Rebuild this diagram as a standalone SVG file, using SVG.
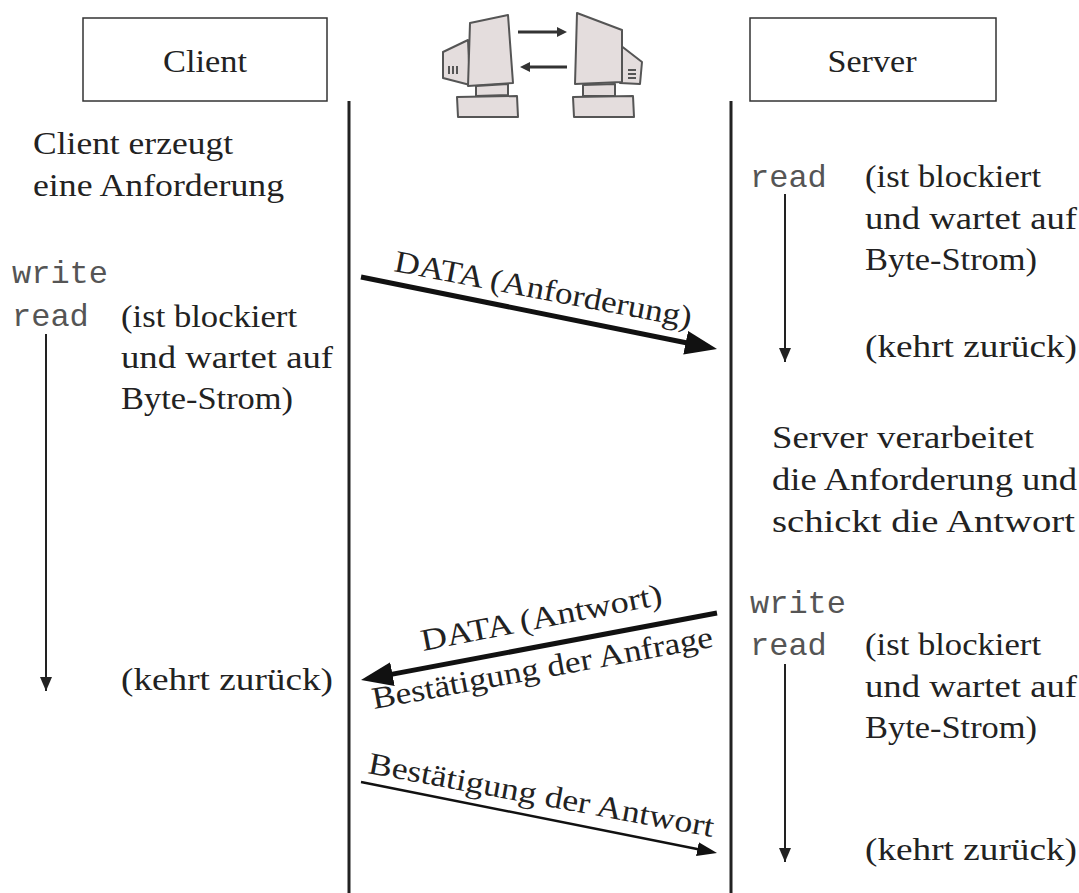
<svg xmlns="http://www.w3.org/2000/svg" width="1079" height="893" viewBox="0 0 1079 893">
  <style>
    .serif { font-family: "Liberation Serif", "DejaVu Serif", serif; font-size: 32px; fill: #222; }
    .lbl { font-family: "Liberation Serif", "DejaVu Serif", serif; font-size: 31px; fill: #222; }
    .mono { font-family: "Liberation Mono", "DejaVu Sans Mono", monospace; font-size: 32px; fill: #555; }
    .box { fill: #fff; stroke: #333; stroke-width: 1.5; }
    .life { stroke: #222; stroke-width: 3; fill: none; }
    .msg { stroke: #111; fill: none; }
    .wait { stroke: #222; stroke-width: 2; fill: none; }
    .pc { fill: #e4dddd; stroke: #555; stroke-width: 2; stroke-linejoin: round; }
    .pcdark { fill: none; stroke: #555; stroke-width: 2; }
  </style>
  <defs>
    <!-- heads sit past the line end so the shaft never pokes out at the tip -->
    <marker id="headBig" markerUnits="userSpaceOnUse" markerWidth="34" markerHeight="26" refX="8" refY="12" orient="auto">
      <path d="M0,0 L32,12 L0,24 Z" fill="#111"/>
    </marker>
    <marker id="headSmall" markerUnits="userSpaceOnUse" markerWidth="22" markerHeight="16" refX="6" refY="7" orient="auto">
      <path d="M0,0 L20,7 L0,14 Z" fill="#111"/>
    </marker>
    <marker id="headWait" markerUnits="userSpaceOnUse" markerWidth="16" markerHeight="14" refX="14" refY="7" orient="auto">
      <path d="M0,1 L14,7 L0,13 Z" fill="#222"/>
    </marker>
  </defs>

  <rect width="1079" height="893" fill="#fff"/>

  <!-- Client node -->
  <g id="client">
    <rect class="box" x="83" y="18" width="244" height="83"/>
    <text class="serif" x="205" y="72" text-anchor="middle" textLength="84" lengthAdjust="spacingAndGlyphs">Client</text>
  </g>

  <!-- Server node -->
  <g id="server">
    <rect class="box" x="750" y="18" width="246" height="83"/>
    <text class="serif" x="872" y="72" text-anchor="middle" textLength="89" lengthAdjust="spacingAndGlyphs">Server</text>
  </g>

  <!-- Two computers exchanging data -->
  <g id="computers">
    <!-- left machine: body, screen, stand, base -->
    <path class="pc" d="M443,52 L468,40 L470,85 L443,78 Z"/>
    <path class="pcdark" d="M449,66 L449,74 M453,66 L453,74 M457,66 L457,74"/>
    <path class="pc" d="M470,23 L508,15 L513,83 L468,86 Z"/>
    <path class="pc" d="M476,86 L508,84 L508,95 L476,96 Z"/>
    <path class="pc" d="M457,97 L517,96 L518,117 L458,117 Z"/>
    <!-- right machine -->
    <path class="pc" d="M620,45 L642,62 L640,84 L620,83 Z"/>
    <path class="pcdark" d="M628,70 L636,70 M628,74 L636,74 M628,78 L636,78"/>
    <path class="pc" d="M577,13 L622,30 L622,82 L575,84 Z"/>
    <path class="pc" d="M583,85 L615,84 L615,96 L583,96 Z"/>
    <path class="pc" d="M573,97 L633,96 L634,117 L574,117 Z"/>
    <!-- exchange arrows -->
    <path d="M518,32 L560,32" stroke="#333" stroke-width="3"/>
    <path d="M567,32 L557,27 L557,37 Z" fill="#333"/>
    <path d="M567,67 L527,67" stroke="#333" stroke-width="3"/>
    <path d="M520,67 L530,62 L530,72 Z" fill="#333"/>
  </g>

  <!-- Connectors: lifelines, messages, blocking waits -->
  <g id="connectors">
    <line class="life" x1="349" y1="101" x2="349" y2="893"/>
    <line class="life" x1="731" y1="101" x2="731" y2="893"/>

    <line class="msg" x1="361" y1="277" x2="693.5" y2="344.3" stroke-width="5" marker-end="url(#headBig)"/>
    <line class="msg" x1="717" y1="613" x2="384.6" y2="675.6" stroke-width="5" marker-end="url(#headBig)"/>
    <line class="msg" x1="361" y1="782" x2="703.3" y2="850.3" stroke-width="2.5" marker-end="url(#headSmall)"/>

    <line class="wait" x1="46" y1="334" x2="46" y2="691" marker-end="url(#headWait)"/>
    <line class="wait" x1="785" y1="194" x2="785" y2="362" marker-end="url(#headWait)"/>
    <line class="wait" x1="785" y1="664" x2="785" y2="862" marker-end="url(#headWait)"/>
  </g>

  <!-- Message labels -->
  <g id="msg-labels">
    <text class="lbl" transform="translate(393,271) rotate(10.8)" textLength="302" lengthAdjust="spacingAndGlyphs">DATA (Anforderung)</text>
    <text class="lbl" transform="translate(423,651) rotate(-11)" textLength="245" lengthAdjust="spacingAndGlyphs">DATA (Antwort)</text>
    <text class="lbl" transform="translate(374,709) rotate(-10.4)" textLength="346" lengthAdjust="spacingAndGlyphs">Bestätigung der Anfrage</text>
    <text class="lbl" transform="translate(367,773) rotate(10.5)" textLength="351" lengthAdjust="spacingAndGlyphs">Bestätigung der Antwort</text>
  </g>

  <!-- Client side -->
  <g id="client-notes">
    <text class="serif" x="33" y="154" textLength="200" lengthAdjust="spacingAndGlyphs">Client erzeugt</text>
    <text class="serif" x="33" y="196" textLength="251" lengthAdjust="spacingAndGlyphs">eine Anforderung</text>
    <text class="mono" x="12" y="283">write</text>
    <text class="mono" x="12" y="326">read</text>
    <text class="serif" x="121" y="327" textLength="176" lengthAdjust="spacingAndGlyphs">(ist blockiert</text>
    <text class="serif" x="121" y="368" textLength="212" lengthAdjust="spacingAndGlyphs">und wartet auf</text>
    <text class="serif" x="121" y="409" textLength="172" lengthAdjust="spacingAndGlyphs">Byte-Strom)</text>
    <text class="serif" x="121" y="690" textLength="212" lengthAdjust="spacingAndGlyphs">(kehrt zurück)</text>
  </g>

  <!-- Server side -->
  <g id="server-notes">
    <text class="mono" x="750" y="187">read</text>
    <text class="serif" x="865" y="187" textLength="176" lengthAdjust="spacingAndGlyphs">(ist blockiert</text>
    <text class="serif" x="865" y="229" textLength="212" lengthAdjust="spacingAndGlyphs">und wartet auf</text>
    <text class="serif" x="865" y="270" textLength="172" lengthAdjust="spacingAndGlyphs">Byte-Strom)</text>
    <text class="serif" x="865" y="357" textLength="212" lengthAdjust="spacingAndGlyphs">(kehrt zurück)</text>

    <text class="serif" x="772" y="448" textLength="262" lengthAdjust="spacingAndGlyphs">Server verarbeitet</text>
    <text class="serif" x="772" y="490" textLength="305" lengthAdjust="spacingAndGlyphs">die Anforderung und</text>
    <text class="serif" x="772" y="532" textLength="303" lengthAdjust="spacingAndGlyphs">schickt die Antwort</text>

    <text class="mono" x="750" y="613">write</text>
    <text class="mono" x="750" y="655">read</text>
    <text class="serif" x="865" y="655" textLength="176" lengthAdjust="spacingAndGlyphs">(ist blockiert</text>
    <text class="serif" x="865" y="697" textLength="212" lengthAdjust="spacingAndGlyphs">und wartet auf</text>
    <text class="serif" x="865" y="738" textLength="172" lengthAdjust="spacingAndGlyphs">Byte-Strom)</text>
    <text class="serif" x="865" y="860" textLength="212" lengthAdjust="spacingAndGlyphs">(kehrt zurück)</text>
  </g>
</svg>
